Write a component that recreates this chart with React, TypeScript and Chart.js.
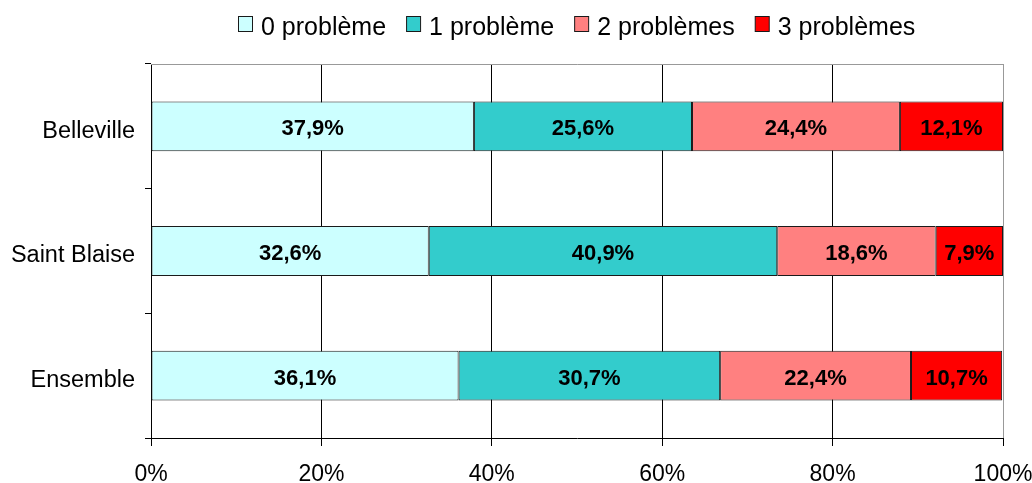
import React, { useEffect, useRef } from "react";
import { Chart, registerables } from "chart.js";

Chart.register(...registerables);

const categories = ["Belleville", "Saint Blaise", "Ensemble"];
const seriesNames = ["0 problème", "1 problème", "2 problèmes", "3 problèmes"];
const zeroProblem = [37.9, 32.6, 36.1];
const oneProblem = [25.6, 40.9, 30.7];
const twoProblems = [24.4, 18.6, 22.4];
const threeProblems = [12.1, 7.9, 10.7];
const seriesColors = ["#CCFFFF", "#33CCCC", "#FF8080", "#FF0000"];
const xTicks = [0, 20, 40, 60, 80, 100];

const FONT = "'Liberation Sans', Arial, Helvetica, sans-serif";

const fmt = (v: number) => v.toFixed(1).replace(".", ",") + "%";

const labelPlugin = {
  id: "segLabels",
  afterDatasetsDraw(chart: any) {
    const ctx = chart.ctx;
    ctx.save();
    ctx.font = `bold 22px ${FONT}`;
    ctx.fillStyle = "#000";
    ctx.textAlign = "center";
    ctx.textBaseline = "middle";
    chart.data.datasets.forEach((ds: any, i: number) => {
      const meta = chart.getDatasetMeta(i);
      meta.data.forEach((el: any, j: number) => {
        const p = el.getProps(["x", "y", "base"], true);
        const cx = (p.x + p.base) / 2;
        ctx.fillText(fmt(ds.data[j]), cx, p.y + 3);
      });
    });
    ctx.restore();
  },
};

const framePlugin = {
  id: "frame",
  beforeDatasetsDraw(chart: any) {
    const { ctx, chartArea } = chart;
    ctx.save();
    ctx.strokeStyle = "#999999";
    ctx.lineWidth = 1;
    ctx.beginPath();
    ctx.moveTo(chartArea.left, chartArea.top + 0.5);
    ctx.lineTo(chartArea.right + 0.5, chartArea.top + 0.5);
    ctx.lineTo(chartArea.right + 0.5, chartArea.bottom);
    ctx.stroke();
    ctx.restore();
  },
};

const legendPlugin = {
  id: "customLegend",
  afterDraw(chart: any) {
    const { ctx, chartArea } = chart;
    const box = 14;
    const gapText = 9;
    const gapItem = 20;
    ctx.save();
    ctx.font = `25px ${FONT}`;
    const items = chart.data.datasets.map((ds: any) => ({
      text: ds.label,
      color: ds.backgroundColor,
      w: ctx.measureText(ds.label).width,
    }));
    const total =
      items.reduce((s: number, it: any) => s + box + gapText + it.w, 0) + gapItem * (items.length - 1);
    let x = Math.round((chartArea.left + chartArea.right) / 2 - total / 2);
    const baseline = 35;
    items.forEach((it: any) => {
      ctx.fillStyle = it.color;
      ctx.fillRect(x + 0.5, 16.5, box, box + 1);
      ctx.strokeStyle = "#1a1a1a";
      ctx.lineWidth = 1;
      ctx.strokeRect(x + 0.5, 16.5, box, box + 1);
      ctx.fillStyle = "#000";
      ctx.textAlign = "left";
      ctx.textBaseline = "alphabetic";
      ctx.fillText(it.text, x + box + gapText, baseline);
      x += box + gapText + it.w + gapItem;
    });
    ctx.restore();
  },
};

export default function App() {
  const ref = useRef<HTMLCanvasElement | null>(null);

  useEffect(() => {
    if (!ref.current) return;
    const seriesData = [zeroProblem, oneProblem, twoProblems, threeProblems];
    const chart = new Chart(ref.current, {
      type: "bar",
      data: {
        labels: categories,
        datasets: seriesNames.map((name, i) => ({
          label: name,
          data: seriesData[i],
          backgroundColor: seriesColors[i],
          borderColor: "#1a1a1a",
          borderWidth: 1,
          borderSkipped: false,
          categoryPercentage: 0.4,
          barPercentage: 1,
        })),
      },
      options: {
        indexAxis: "y",
        responsive: false,
        animation: false,
        layout: { padding: { left: 0, right: 29, top: 64, bottom: 0 } },
        plugins: {
          tooltip: { enabled: false },
          legend: { display: false },
        },
        scales: {
          x: {
            stacked: true,
            min: 0,
            max: 100,
            afterBuildTicks: (scale: any) => {
              scale.ticks = xTicks.map((v) => ({ value: v }));
            },
            afterFit: (scale: any) => {
              scale.height = 45;
              scale.paddingLeft = 0;
              scale.paddingRight = 0;
            },
            ticks: {
              color: "#000",
              font: { family: FONT, size: 23 },
              padding: 15,
              maxRotation: 0,
              callback: (v: any) => v + "%",
            },
            grid: {
              color: (c: any) => (c.tick && c.tick.value === 100 ? "#999999" : "#000000"),
              tickColor: "#000000",
              tickLength: 8,
              lineWidth: 1,
            },
            border: { color: "#000", width: 1 },
          },
          y: {
            stacked: true,
            afterFit: (scale: any) => {
              scale.width = 151;
              scale.paddingTop = 0;
              scale.paddingBottom = 0;
            },
            ticks: {
              color: "#000",
              font: { family: FONT, size: 23.5 },
              padding: 10,
              labelOffset: 5,
            },
            grid: {
              offset: true,
              drawOnChartArea: false,
              tickLength: 6,
              tickColor: "#000",
              color: "#000",
            },
            border: { color: "#000", width: 1 },
          },
        },
      },
      plugins: [framePlugin, labelPlugin, legendPlugin],
    } as any);
    return () => chart.destroy();
  }, []);

  return (
    <div style={{ position: "fixed", left: 0, top: 0, width: 1032, height: 483, background: "#fff" }}>
      <canvas ref={ref} width={1032} height={483} style={{ display: "block" }} />
    </div>
  );
}
